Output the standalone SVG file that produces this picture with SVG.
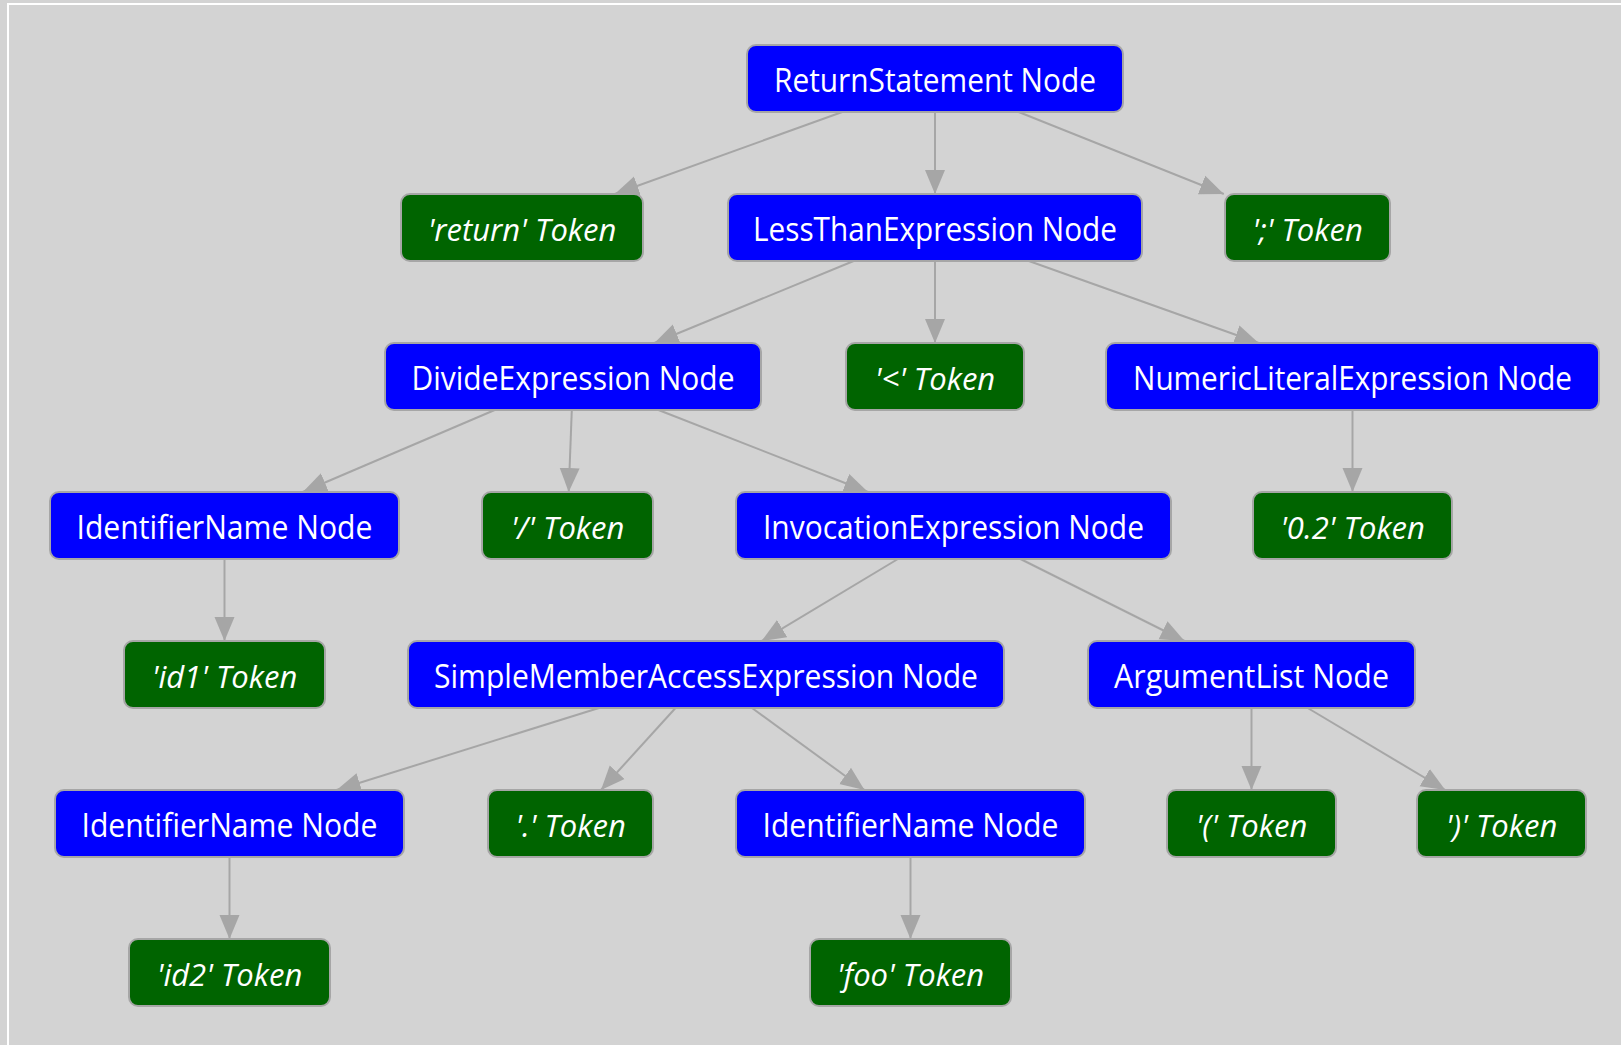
<svg xmlns="http://www.w3.org/2000/svg" width="1621" height="1045" viewBox="0 0 1621 1045">
  <style>
    .bg { fill: #d3d3d3; }
    .frame { stroke: #ffffff; stroke-width: 2; fill: none; }
    .box { stroke: #a6a6a6; stroke-width: 2; }
    .node .box { fill: #0000ff; }
    .token .box { fill: #006400; }
    .lbl { fill: #ffffff; font-family: "Open Sans", "Noto Sans", "Liberation Sans", sans-serif; font-size: 32px; text-anchor: middle; }
    .token .lbl { font-style: italic; font-size: 31px; }
    .edge { stroke: #a6a6a6; stroke-width: 2; fill: none; marker-end: url(#arrow); }
  </style>
  <defs>
    <marker id="arrow" markerUnits="userSpaceOnUse" markerWidth="26" markerHeight="22" refX="24" refY="11" orient="auto">
      <path d="M0,1 L24,11 L0,21 Z" fill="#a6a6a6"/>
    </marker>
  </defs>

  <rect class="bg" x="0" y="0" width="1621" height="1045"/>
  <path class="frame" d="M8,1045 L8,4 L1621,4"/>

  <!-- connectors: centre-to-centre lines clipped at the box edges -->
  <g id="edges">
    <line class="edge" x1="842.2" y1="112" x2="614.8" y2="194"/>
    <line class="edge" x1="935" y1="112" x2="935" y2="194"/>
    <line class="edge" x1="1018.7" y1="112" x2="1223.8" y2="194"/>
    <line class="edge" x1="853.6" y1="261" x2="654.4" y2="343"/>
    <line class="edge" x1="935" y1="261" x2="935" y2="343"/>
    <line class="edge" x1="1028.9" y1="261" x2="1258.7" y2="343"/>
    <line class="edge" x1="494.7" y1="410" x2="302.8" y2="492"/>
    <line class="edge" x1="571.8" y1="410" x2="568.7" y2="492"/>
    <line class="edge" x1="658.5" y1="410" x2="868" y2="492"/>
    <line class="edge" x1="1352.5" y1="410" x2="1352.5" y2="492"/>
    <line class="edge" x1="224.5" y1="559" x2="224.5" y2="641"/>
    <line class="edge" x1="897.9" y1="559" x2="761.6" y2="641"/>
    <line class="edge" x1="1020.5" y1="559" x2="1184.5" y2="641"/>
    <line class="edge" x1="598.9" y1="708" x2="336.6" y2="790"/>
    <line class="edge" x1="675.5" y1="708" x2="601" y2="790"/>
    <line class="edge" x1="752" y1="708" x2="864.5" y2="790"/>
    <line class="edge" x1="1251.5" y1="708" x2="1251.5" y2="790"/>
    <line class="edge" x1="1307.7" y1="708" x2="1445.3" y2="790"/>
    <line class="edge" x1="229.5" y1="857" x2="229.5" y2="939"/>
    <line class="edge" x1="910.5" y1="857" x2="910.5" y2="939"/>
  </g>

  <g id="n-return-statement" class="node">
    <rect class="box" x="747" y="45" width="376" height="67" rx="9"/>
    <text class="lbl" x="935" y="91.5" textLength="322" lengthAdjust="spacingAndGlyphs">ReturnStatement Node</text>
  </g>
  <g id="t-return" class="token">
    <rect class="box" x="401" y="194" width="242" height="67" rx="9"/>
    <text class="lbl" x="522" y="240.5">'return' Token</text>
  </g>
  <g id="n-less-than" class="node">
    <rect class="box" x="728" y="194" width="414" height="67" rx="9"/>
    <text class="lbl" x="935" y="240.5" textLength="364" lengthAdjust="spacingAndGlyphs">LessThanExpression Node</text>
  </g>
  <g id="t-semicolon" class="token">
    <rect class="box" x="1225" y="194" width="165" height="67" rx="9"/>
    <text class="lbl" x="1307.5" y="240.5">';' Token</text>
  </g>
  <g id="n-divide" class="node">
    <rect class="box" x="385" y="343" width="376" height="67" rx="9"/>
    <text class="lbl" x="573" y="389.5" textLength="323" lengthAdjust="spacingAndGlyphs">DivideExpression Node</text>
  </g>
  <g id="t-less" class="token">
    <rect class="box" x="846" y="343" width="178" height="67" rx="9"/>
    <text class="lbl" x="935" y="389.5">'&lt;' Token</text>
  </g>
  <g id="n-numeric-literal" class="node">
    <rect class="box" x="1106" y="343" width="493" height="67" rx="9"/>
    <text class="lbl" x="1352.5" y="389.5" textLength="439" lengthAdjust="spacingAndGlyphs">NumericLiteralExpression Node</text>
  </g>
  <g id="n-identifier-id1" class="node">
    <rect class="box" x="50" y="492" width="349" height="67" rx="9"/>
    <text class="lbl" x="224.5" y="538.5" textLength="296" lengthAdjust="spacingAndGlyphs">IdentifierName Node</text>
  </g>
  <g id="t-slash" class="token">
    <rect class="box" x="482" y="492" width="171" height="67" rx="9"/>
    <text class="lbl" x="567.5" y="538.5">'/' Token</text>
  </g>
  <g id="n-invocation" class="node">
    <rect class="box" x="736" y="492" width="435" height="67" rx="9"/>
    <text class="lbl" x="953.5" y="538.5" textLength="381" lengthAdjust="spacingAndGlyphs">InvocationExpression Node</text>
  </g>
  <g id="t-number" class="token">
    <rect class="box" x="1253" y="492" width="199" height="67" rx="9"/>
    <text class="lbl" x="1352.5" y="538.5">'0.2' Token</text>
  </g>
  <g id="t-id1" class="token">
    <rect class="box" x="124" y="641" width="201" height="67" rx="9"/>
    <text class="lbl" x="224.5" y="687.5">'id1' Token</text>
  </g>
  <g id="n-member-access" class="node">
    <rect class="box" x="408" y="641" width="596" height="67" rx="9"/>
    <text class="lbl" x="706" y="687.5" textLength="544" lengthAdjust="spacingAndGlyphs">SimpleMemberAccessExpression Node</text>
  </g>
  <g id="n-argument-list" class="node">
    <rect class="box" x="1088" y="641" width="327" height="67" rx="9"/>
    <text class="lbl" x="1251.5" y="687.5" textLength="275" lengthAdjust="spacingAndGlyphs">ArgumentList Node</text>
  </g>
  <g id="n-identifier-id2" class="node">
    <rect class="box" x="55" y="790" width="349" height="67" rx="9"/>
    <text class="lbl" x="229.5" y="836.5" textLength="296" lengthAdjust="spacingAndGlyphs">IdentifierName Node</text>
  </g>
  <g id="t-dot" class="token">
    <rect class="box" x="488" y="790" width="165" height="67" rx="9"/>
    <text class="lbl" x="570.5" y="836.5">'.' Token</text>
  </g>
  <g id="n-identifier-foo" class="node">
    <rect class="box" x="736" y="790" width="349" height="67" rx="9"/>
    <text class="lbl" x="910.5" y="836.5" textLength="296" lengthAdjust="spacingAndGlyphs">IdentifierName Node</text>
  </g>
  <g id="t-open-paren" class="token">
    <rect class="box" x="1167" y="790" width="169" height="67" rx="9"/>
    <text class="lbl" x="1251.5" y="836.5">'(' Token</text>
  </g>
  <g id="t-close-paren" class="token">
    <rect class="box" x="1417" y="790" width="169" height="67" rx="9"/>
    <text class="lbl" x="1501.5" y="836.5">')' Token</text>
  </g>
  <g id="t-id2" class="token">
    <rect class="box" x="129" y="939" width="201" height="67" rx="9"/>
    <text class="lbl" x="229.5" y="985.5">'id2' Token</text>
  </g>
  <g id="t-foo" class="token">
    <rect class="box" x="810" y="939" width="201" height="67" rx="9"/>
    <text class="lbl" x="910.5" y="985.5">'foo' Token</text>
  </g>
</svg>
